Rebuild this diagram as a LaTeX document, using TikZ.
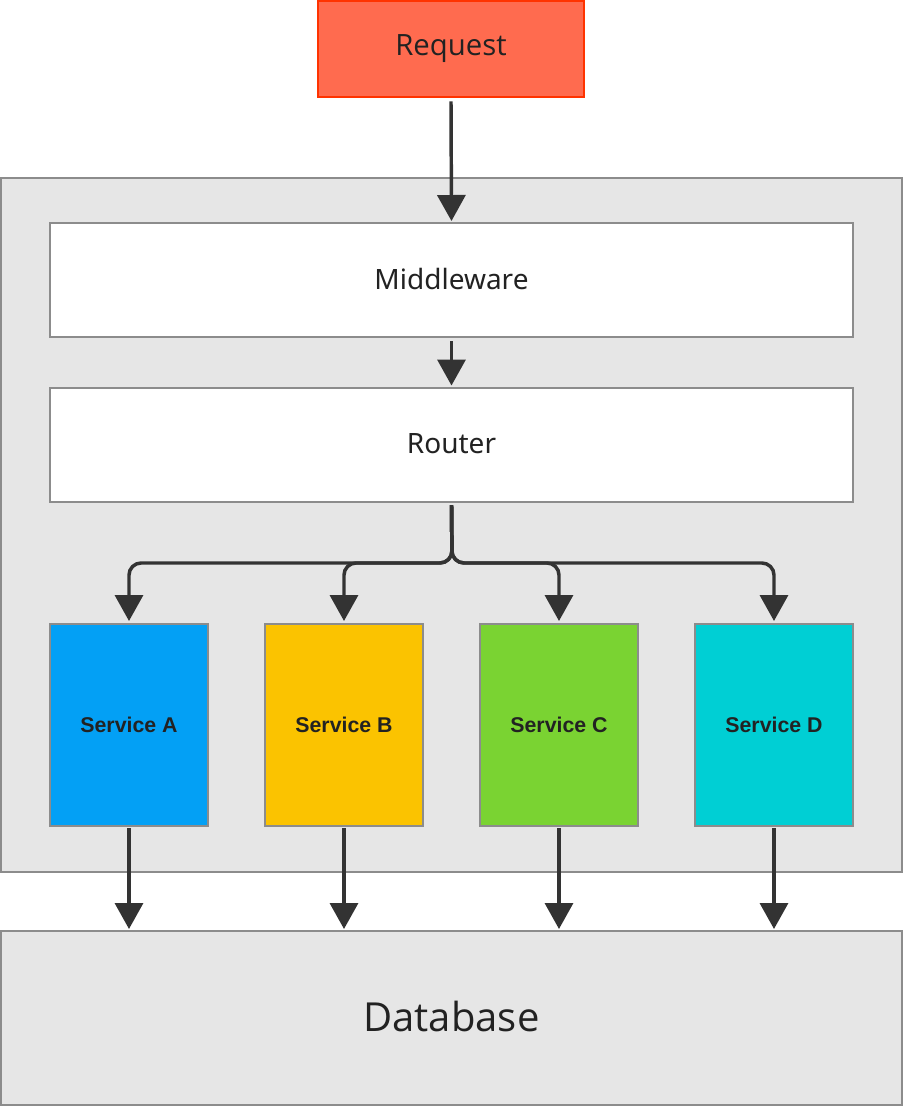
\documentclass[tikz,border=0pt]{standalone}
\usepackage{fontspec}
\setmainfont{Open Sans}
\newfontfamily\labfont{Noto Sans}
\newfontfamily\svcfont{Liberation Sans}
\usetikzlibrary{arrows.meta}
\definecolor{reqfill}{HTML}{FF6B4F}
\definecolor{reqdraw}{HTML}{FF3300}
\definecolor{outerfill}{HTML}{E6E6E6}
\definecolor{boxdraw}{HTML}{8C8C8C}
\definecolor{svcA}{HTML}{03A0F5}
\definecolor{svcB}{HTML}{FBC300}
\definecolor{svcC}{HTML}{7AD332}
\definecolor{svcD}{HTML}{00CFD4}
\definecolor{arrowc}{HTML}{333333}
\definecolor{textc}{HTML}{222222}
\tikzset{
  box/.style={draw=boxdraw, line width=1.5pt, inner sep=0pt, text=textc},
  svcbox/.style={box, minimum width=158*0.75pt, minimum height=202*0.75pt,
    font=\svcfont\bfseries\fontsize{16}{19}\selectfont},
  widebox/.style={box, fill=white, minimum width=803*0.75pt, minimum height=114*0.75pt,
    font=\labfont\fontsize{21}{25}\selectfont},
  arr/.style={draw=arrowc, line width=2.6pt,
    -{Triangle[width=21pt,length=19.5pt]}},
}
\begin{document}
\begin{tikzpicture}[x=0.75pt,y=-0.75pt]
\useasboundingbox (0,0) rectangle (904,1108);
\node[draw=boxdraw, line width=1.5pt, fill=outerfill, minimum width=901*0.75pt, minimum height=694*0.75pt, inner sep=0pt] (outer) at (451.5,525) {};
\node[draw=reqdraw, line width=1.5pt, fill=reqfill, text=textc, minimum width=266*0.75pt, minimum height=96*0.75pt, inner sep=0pt, font=\fontsize{22}{26}\selectfont] (req) at (451,49) {Request};
\node[widebox] (mw) at (451.5,280) {\raisebox{2pt}{Middleware}};
\node[widebox] (rt) at (451.5,444.5) {\raisebox{2pt}{Router}};
\node[svcbox, fill=svcA] (sA) at (129,725) {Service A};
\node[svcbox, fill=svcB] (sB) at (344,725) {Service B};
\node[svcbox, fill=svcC] (sC) at (559,725) {Service C};
\node[svcbox, fill=svcD] (sD) at (774,725) {Service D};
\node[box, fill=outerfill, minimum width=901*0.75pt, minimum height=174*0.75pt, font=\fontsize{30}{36}\selectfont] (db) at (451.5,1018) {\raisebox{2pt}{Database}};
\coordinate (fan) at (452,563);
\draw[arr] ([yshift=-2.5pt]req.south) -- ([yshift=0.75pt]mw.north);
\draw[arr] ([yshift=-2.5pt]mw.south) -- ([yshift=0.75pt]rt.north);
\foreach \s in {sA,sB,sC,sD}{
  \draw[arr, rounded corners=9pt] ([yshift=-2pt]rt.south) -- (fan) -| ([yshift=1.5pt]\s.north);
  \draw[arr] ([yshift=-1pt]\s.south) -- ([yshift=0.75pt]\s.south |- db.north);
}
\end{tikzpicture}
\end{document}
